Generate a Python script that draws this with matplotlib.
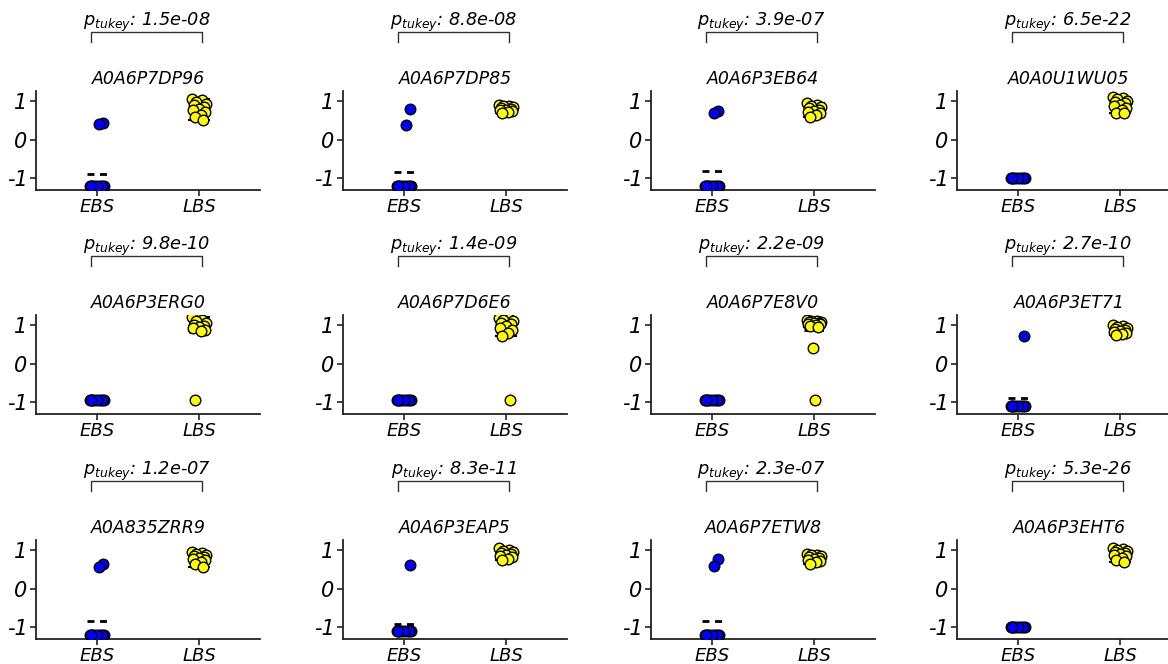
import numpy as np
import matplotlib
matplotlib.use("Agg")
import matplotlib.pyplot as plt
from matplotlib.transforms import blended_transform_factory

# protein panels, in reading order
proteins = ["A0A6P7DP96", "A0A6P7DP85", "A0A6P3EB64", "A0A0U1WU05",
            "A0A6P3ERG0", "A0A6P7D6E6", "A0A6P7E8V0", "A0A6P3ET71",
            "A0A835ZRR9", "A0A6P3EAP5", "A0A6P7ETW8", "A0A6P3EHT6"]
p_tukey = ["1.5e-08", "8.8e-08", "3.9e-07", "6.5e-22",
           "9.8e-10", "1.4e-09", "2.2e-09", "2.7e-10",
           "1.2e-07", "8.3e-11", "2.3e-07", "5.3e-26"]
groups = ["EBS", "LBS"]

# scaled abundance values
ebs_values = [
    [-1.2] * 8 + [0.42, 0.4],
    [-1.2] * 8 + [0.8, 0.38],
    [-1.2] * 8 + [0.75, 0.68],
    [-1.0] * 8,
    [-0.94] * 8,
    [-0.94] * 8,
    [-0.94] * 8,
    [-1.1] * 8 + [0.72],
    [-1.2] * 8 + [0.65, 0.55],
    [-1.1] * 8 + [0.62],
    [-1.2] * 8 + [0.76, 0.6],
    [-1.0] * 8,
]
lbs_values = [
    [1.05, 1.02, 0.98, 0.93, 0.9, 0.85, 0.8, 0.78, 0.72, 0.65, 0.6, 0.5],
    [0.9, 0.88, 0.86, 0.84, 0.82, 0.8, 0.78, 0.76, 0.74, 0.72, 0.7],
    [0.95, 0.9, 0.88, 0.85, 0.82, 0.78, 0.75, 0.72, 0.68, 0.65, 0.6],
    [1.1, 1.08, 1.05, 1.0, 0.98, 0.95, 0.9, 0.88, 0.82, 0.78, 0.7, 0.68],
    [1.2, 1.12, 1.1, 1.05, 1.0, 0.98, 0.95, 0.92, 0.88, 0.85, -0.94],
    [1.18, 1.15, 1.12, 1.1, 1.05, 1.02, 0.98, 0.92, 0.88, 0.8, 0.72, -0.94],
    [1.12, 1.1, 1.1, 1.08, 1.07, 1.06, 1.05, 1.04, 1.02, 1.0, 0.98, 0.96, 0.4, -0.94],
    [1.0, 0.98, 0.95, 0.92, 0.9, 0.88, 0.85, 0.82, 0.8, 0.78, 0.75],
    [0.95, 0.92, 0.9, 0.88, 0.85, 0.82, 0.8, 0.78, 0.75, 0.7, 0.65, 0.55],
    [1.05, 1.0, 0.98, 0.95, 0.92, 0.9, 0.88, 0.85, 0.82, 0.78, 0.75],
    [0.9, 0.88, 0.86, 0.84, 0.82, 0.8, 0.78, 0.75, 0.72, 0.68, 0.65],
    [1.05, 1.02, 1.0, 0.98, 0.95, 0.92, 0.9, 0.88, 0.85, 0.8, 0.75, 0.7],
]

colors = {"EBS": "#0000ff", "LBS": "#ffff00"}
jitter = [-0.07, 0.03, -0.03, 0.07, -0.05, 0.05, 0.0, -0.06, 0.06, 0.02, -0.04, 0.04, -0.01, 0.01]

plt.rcParams["font.family"] = "DejaVu Sans"
plt.rcParams["mathtext.fontset"] = "dejavusans"

W, H = 1168, 664
fig = plt.figure(figsize=(W / 100, H / 100), dpi=100)

col_left = [36, 343, 651, 957]
row_top = [91, 315, 540]
ax_w, ax_h = 224, 99

for i, name in enumerate(proteins):
    r, c = divmod(i, 4)
    ax = fig.add_axes([col_left[c] / W, 1 - (row_top[r] + ax_h) / H, ax_w / W, ax_h / H])
    data = [ebs_values[i], lbs_values[i]]

    # boxplot (EBS box collapses onto its points)
    bp = ax.boxplot(data, positions=[1, 2], widths=0.16, capwidths=0.2,
                    showfliers=False, patch_artist=True,
                    medianprops=dict(color="black", lw=1.2),
                    whiskerprops=dict(color="black", lw=1.2),
                    capprops=dict(color="black", lw=1.5),
                    boxprops=dict(edgecolor="black", lw=1.2), zorder=2)
    for patch, g in zip(bp["boxes"], groups):
        patch.set_facecolor(colors[g])

    # mean bar
    for pos, vals in zip([1, 2], data):
        ax.hlines(np.mean(vals), pos - 0.1, pos + 0.1, colors="black", lw=2,
                  linestyles=(0, (2.5, 2)), zorder=2.5)

    # jittered points
    for pos, vals, g in zip([1, 2], data, groups):
        xs = [pos + jitter[k % len(jitter)] for k in range(len(vals))]
        ax.scatter(xs, vals, s=58, color=colors[g], edgecolors="black",
                   linewidths=1, zorder=3)

    ax.set_xlim(0.4, 2.6)
    ax.set_ylim(-1.3, 1.26)
    ax.set_xticks([1, 2])
    ax.set_xticklabels(groups, fontsize=13, style="italic")
    ax.set_yticks([-1, 0, 1])
    ax.set_yticklabels(["-1", "0", "1"], fontsize=15, style="italic")
    for s in ["top", "right"]:
        ax.spines[s].set_visible(False)
    for s in ["left", "bottom"]:
        ax.spines[s].set_linewidth(1.3)
        ax.spines[s].set_color("#222222")
    ax.tick_params(length=4, width=1.2, color="#222222", pad=2)

    ax.text(0.5, 1.12, name, transform=ax.transAxes, ha="center", va="center",
            fontsize=12.5, style="italic")

    # significance bracket
    tr = blended_transform_factory(ax.transData, ax.transAxes)
    ax.plot([0.94, 0.94, 2.03, 2.03], [1.495, 1.596, 1.596, 1.495], color="#333333",
            lw=1, transform=tr, clip_on=False)
    ax.text(1.485, 1.655, r"$p_{tukey}$: " + p_tukey[i], transform=tr, ha="center",
            va="baseline", fontsize=12.8, style="italic")

fig.savefig("out.png", dpi=100)
